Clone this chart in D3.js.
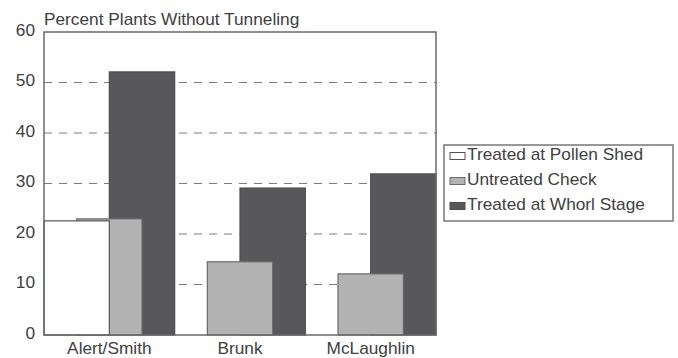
<!DOCTYPE html>
<html>
<head>
<meta charset="utf-8">
<script src="https://cdn.jsdelivr.net/npm/d3@7"></script>
<style>
  html, body { margin: 0; padding: 0; background: #ffffff; }
  svg { display: block; }
  text { font-family: "Liberation Sans", Arial, sans-serif; fill: #404040; }
</style>
</head>
<body>
<svg id="chart" width="678" height="358"></svg>
<script>
// Percent of plants without tunneling, by hybrid and treatment
const categories = ["Alert/Smith", "Brunk", "McLaughlin"];
const seriesNames = ["Treated at Pollen Shed", "Untreated Check", "Treated at Whorl Stage"];
const pollenShed = [22.6, 0, 0];
const untreated = [23.0, 14.5, 12.1];
const whorlStage = [52.1, 29.1, 31.9];
const yTicks = [0, 10, 20, 30, 40, 50, 60];
const title = "Percent Plants Without Tunneling";

const seriesValues = [pollenShed, untreated, whorlStage];
const seriesFill = ["#ffffff", "#b3b3b3", "#58585a"];
const seriesStroke = ["#555555", "#6a6a6a", "#4e4e50"];

// the lettering is a little wider than the plain face
const stretch = 1.08;
function widen(sel) {
  sel.each(function () {
    const t = d3.select(this);
    const x0 = +t.attr("x") || 0;
    t.attr("transform", `translate(${x0 * (1 - stretch)},0) scale(${stretch},1)`);
  });
}

const svg = d3.select("#chart");
const m = { left: 44, right: 242, top: 32, bottom: 23 };
const W = 678, H = 358;

const x = d3.scaleBand().domain(categories).range([m.left, W - m.right]).padding(0);
const y = d3.scaleLinear().domain([0, 60]).range([H - m.bottom, m.top]);
// overlapping bars: each bar is half a band wide, shifted a quarter band apart
const offset = d3.scalePoint().domain(seriesNames).range([0, x.bandwidth() / 2]);
const barW = x.bandwidth() / 2;

// dashed grid lines
svg.append("g")
  .selectAll("line")
  .data(yTicks.filter(t => t > 0 && t < 60))
  .join("line")
  .attr("x1", m.left).attr("x2", W - m.right)
  .attr("y1", d => y(d)).attr("y2", d => y(d))
  .attr("stroke", "#7a7a7a").attr("stroke-width", 1)
  .attr("stroke-dasharray", "8,7");

// bars, back series first so front series overlap them
const order = [2, 1, 0];
order.forEach(si => {
  const name = seriesNames[si];
  svg.append("g")
    .selectAll("rect")
    .data(categories.map((c, i) => ({ c, v: seriesValues[si][i] })).filter(d => d.v > 0))
    .join("rect")
    .attr("x", d => x(d.c) + offset(name))
    .attr("y", d => y(d.v))
    .attr("width", barW)
    .attr("height", d => y(0) - y(d.v))
    .attr("fill", seriesFill[si])
    .attr("stroke", seriesStroke[si])
    .attr("stroke-width", 1.2);
});

// plot frame
svg.append("rect")
  .attr("x", m.left).attr("y", y(60))
  .attr("width", W - m.right - m.left).attr("height", y(0) - y(60))
  .attr("fill", "none").attr("stroke", "#6a6a6a").attr("stroke-width", 1.5);

// y axis labels
const yAxis = d3.axisLeft(y).tickValues(yTicks).tickSize(0).tickPadding(9);
const gy = svg.append("g").attr("transform", `translate(${m.left},0)`).call(yAxis);
gy.select(".domain").remove();
gy.selectAll("text").style("font-size", "16px").attr("fill", "#404040").attr("dy", "0.2em").call(widen);

// category labels
const xAxis = d3.axisBottom(x).tickSize(0).tickPadding(7.5);
const gx = svg.append("g").attr("transform", `translate(0,${y(0)})`).call(xAxis);
gx.select(".domain").remove();
gx.selectAll("text").style("font-size", "16px").attr("fill", "#404040").call(widen);

// title
svg.append("text")
  .attr("x", 44).attr("y", 25)
  .style("font-size", "16px")
  .text(title)
  .call(widen);

// legend
const lg = svg.append("g");
lg.append("rect")
  .attr("x", 444).attr("y", 145).attr("width", 229).attr("height", 76)
  .attr("fill", "#ffffff").attr("stroke", "#777777").attr("stroke-width", 1.5);
seriesNames.forEach((name, i) => {
  const by = 160.5 + i * 25;
  lg.append("rect")
    .attr("x", 450).attr("y", by - 8).attr("width", 15).attr("height", 7)
    .attr("fill", seriesFill[i]).attr("stroke", seriesStroke[i]).attr("stroke-width", 1);
  lg.append("text")
    .attr("x", 467).attr("y", by)
    .style("font-size", "16px")
    .text(name)
    .call(widen);
});
</script>
</body>
</html>
